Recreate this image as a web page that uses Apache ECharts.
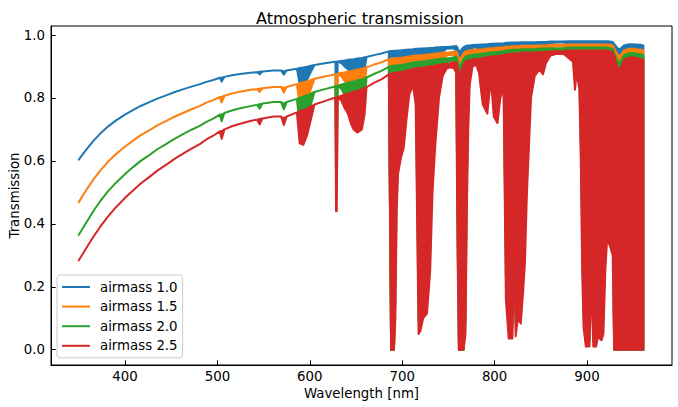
<!DOCTYPE html>
<html><head><meta charset="utf-8">
<script src="https://cdn.jsdelivr.net/npm/echarts@6/dist/echarts.min.js"></script>
<style>html,body{margin:0;padding:0;background:#fff}#c{width:678px;height:407px}</style>
</head><body><div id="c"></div>
<script>
// Wavelength grid [nm]
const wavelength = [
350,355,360,366.5,373,381.5,390,399.5,409,417,425.1,435,445.2,454,463.3,472,481.4,488,495.5,
502.6,504.6,507.6,515.6,524.7,535.7,542.8,545.8,548.8,560.9,
568.9,571.9,574.9,586.0,589.0,593.0,597.1,601.1,605.1,616.2,
625.2,627.7,628.4,629.2,630.2,634.4,637.3,641.3,644.3,647.3,
651.4,656.4,659.4,661.4,669.4,677.5,685.5,688.0,691.1,692.6,
694.1,695.6,698.6,701.6,704.6,707.6,711.6,714.6,716.2,717.7,
719.7,722.7,726.8,730.3,732.8,735.8,739.8,743.8,747.9,751.9,
755.9,758.4,759.9,761.4,763.9,766.4,768.5,770.0,771.5,773.0,
776.1,780.1,783.1,787.1,792.1,796.1,799.1,803.2,806.2,809.7,
812.2,815.2,819.3,821.3,822.8,825.3,828.3,830.8,832.9,834.9,
837.4,839.4,843.5,848.5,852.4,855.5,860.5,867.5,874.7,879.7,
884.8,887.0,888.8,891.7,893.3,894.8,896.3,898.8,902.7,904.7,
906.8,909.8,911.8,915.8,917.8,919.8,921.8,924.8,927.8,929.4,
931.9,933.9,936.9,940.0,944.0,948.1,953.1,958.1,961.0];

// Upper / lower envelopes of the transmission for each airmass
const top10 = [
0.604,0.624,0.643,0.666,0.686,0.709,0.728,0.746,0.762,0.7745,0.785,0.798,0.809,0.819,0.828,0.836,0.844,0.851,0.857,
0.864,0.864,0.867,0.872,0.876,0.880,0.882,0.883,0.884,0.887,
0.887,0.884,0.887,0.893,0.895,0.897,0.899,0.902,0.905,0.910,
0.914,0.915,0.915,0.915,0.916,0.918,0.919,0.921,0.922,0.923,
0.925,0.927,0.929,0.930,0.936,0.941,0.948,0.949,0.950,0.950,
0.950,0.951,0.951,0.952,0.953,0.954,0.955,0.956,0.956,0.956,
0.957,0.957,0.958,0.959,0.959,0.960,0.961,0.962,0.962,0.963,
0.964,0.965,0.960,0.945,0.953,0.961,0.965,0.966,0.967,0.967,
0.968,0.969,0.969,0.970,0.971,0.972,0.972,0.973,0.973,0.974,
0.975,0.975,0.976,0.976,0.976,0.976,0.977,0.977,0.977,0.977,
0.977,0.977,0.977,0.978,0.978,0.978,0.979,0.979,0.979,0.980,
0.980,0.980,0.980,0.980,0.980,0.980,0.980,0.980,0.980,0.980,
0.980,0.980,0.980,0.980,0.980,0.980,0.980,0.979,0.978,0.972,
0.962,0.955,0.958,0.967,0.970,0.971,0.970,0.969,0.967];
const bot10 = [
0.604,0.624,0.643,0.666,0.686,0.709,0.728,0.746,0.762,0.7745,0.785,0.798,0.809,0.819,0.828,0.836,0.844,0.851,0.857,
0.864,0.852,0.867,0.872,0.876,0.880,0.882,0.875,0.884,0.887,
0.887,0.874,0.887,0.893,0.845,0.842,0.858,0.882,0.905,0.910,
0.914,0.915,0.720,0.720,0.916,0.910,0.901,0.891,0.877,0.867,
0.862,0.867,0.891,0.930,0.936,0.941,0.948,0,0,0.398,
0.727,0.793,0.821,0.837,0.882,0.919,0.933,0.905,0.693,0.302,
0.325,0.398,0.421,0.574,0.758,0.842,0.915,0.946,0.956,0.957,
0.957,0.950,0.618,0,0,0,0.302,0.727,0.867,0.933,
0.959,0.961,0.950,0.905,0.891,0.941,0.887,0.877,0.915,0.928,
0.480,0.265,0.265,0.618,0.284,0.398,0.369,0.504,0.601,0.752,
0.847,0.915,0.946,0.954,0.948,0.963,0.974,0.976,0.976,0.971,
0.965,0.926,0.950,0.928,0.815,0.574,0.345,0.158,0.158,0.546,
0.158,0.158,0.276,0.246,0.302,0.574,0.657,0.642,0.618,0,
0,0,0,0,0,0,0,0,0];
const top15 = [
0.469,0.493,0.516,0.544,0.568,0.597,0.621,0.644,0.665,0.682,0.695,0.713,0.728,0.741,0.753,0.764,0.775,0.785,0.793,
0.803,0.803,0.807,0.814,0.820,0.826,0.828,0.830,0.831,0.835,
0.835,0.831,0.835,0.844,0.847,0.850,0.852,0.857,0.861,0.868,
0.874,0.875,0.875,0.875,0.877,0.880,0.881,0.884,0.885,0.887,
0.890,0.893,0.895,0.897,0.906,0.913,0.923,0.925,0.926,0.926,
0.926,0.927,0.927,0.929,0.930,0.932,0.933,0.935,0.935,0.935,
0.936,0.936,0.938,0.939,0.939,0.941,0.942,0.944,0.944,0.945,
0.947,0.948,0.941,0.919,0.930,0.942,0.948,0.949,0.951,0.951,
0.952,0.954,0.954,0.955,0.957,0.958,0.958,0.960,0.960,0.961,
0.963,0.963,0.964,0.964,0.964,0.964,0.966,0.966,0.966,0.966,
0.966,0.966,0.966,0.967,0.967,0.967,0.969,0.969,0.969,0.970,
0.970,0.970,0.970,0.970,0.970,0.970,0.970,0.970,0.970,0.970,
0.970,0.970,0.970,0.970,0.970,0.970,0.970,0.969,0.967,0.958,
0.944,0.933,0.938,0.951,0.955,0.957,0.955,0.954,0.951];
const bot15 = [
0.469,0.493,0.516,0.544,0.568,0.597,0.621,0.644,0.665,0.682,0.695,0.713,0.728,0.741,0.753,0.764,0.775,0.785,0.793,
0.803,0.786,0.807,0.814,0.820,0.826,0.828,0.819,0.831,0.835,
0.835,0.817,0.835,0.844,0.777,0.773,0.795,0.828,0.861,0.868,
0.874,0.875,0.611,0.611,0.877,0.868,0.855,0.842,0.821,0.807,
0.800,0.807,0.842,0.897,0.906,0.913,0.923,0,0,0.251,
0.619,0.706,0.743,0.765,0.828,0.881,0.901,0.861,0.577,0.166,
0.185,0.251,0.273,0.435,0.660,0.772,0.875,0.920,0.934,0.937,
0.936,0.926,0.486,0,0,0,0.166,0.619,0.807,0.901,
0.939,0.942,0.926,0.861,0.842,0.913,0.835,0.821,0.875,0.894,
0.333,0.136,0.136,0.486,0.151,0.251,0.225,0.357,0.466,0.652,
0.779,0.875,0.920,0.932,0.923,0.945,0.961,0.964,0.964,0.956,
0.948,0.892,0.926,0.894,0.736,0.435,0.203,0.063,0.063,0.403,
0.063,0.063,0.145,0.122,0.166,0.435,0.533,0.514,0.486,0,
0,0,0,0,0,0,0,0,0];
const top20 = [
0.365,0.389,0.413,0.444,0.471,0.503,0.530,0.557,0.581,0.600,0.616,0.637,0.655,0.671,0.686,0.699,0.712,0.724,0.734,
0.747,0.747,0.752,0.760,0.767,0.774,0.778,0.780,0.782,0.787,
0.787,0.782,0.787,0.797,0.801,0.805,0.808,0.814,0.819,0.828,
0.835,0.837,0.837,0.837,0.839,0.843,0.845,0.848,0.850,0.852,
0.856,0.859,0.863,0.865,0.876,0.886,0.899,0.901,0.903,0.903,
0.903,0.904,0.904,0.906,0.908,0.910,0.912,0.914,0.914,0.914,
0.916,0.916,0.918,0.920,0.920,0.922,0.924,0.925,0.925,0.927,
0.929,0.931,0.922,0.893,0.908,0.924,0.931,0.933,0.935,0.935,
0.937,0.939,0.939,0.941,0.943,0.945,0.945,0.947,0.947,0.949,
0.951,0.951,0.953,0.953,0.953,0.953,0.955,0.955,0.955,0.955,
0.955,0.955,0.955,0.957,0.957,0.957,0.958,0.958,0.958,0.960,
0.960,0.960,0.960,0.960,0.960,0.960,0.960,0.960,0.960,0.960,
0.960,0.960,0.960,0.960,0.960,0.960,0.960,0.958,0.957,0.945,
0.925,0.912,0.918,0.935,0.941,0.943,0.941,0.939,0.935];
const bot20 = [
0.365,0.389,0.413,0.444,0.471,0.503,0.530,0.557,0.581,0.600,0.616,0.637,0.655,0.671,0.686,0.699,0.712,0.724,0.734,
0.747,0.726,0.752,0.760,0.767,0.774,0.778,0.766,0.782,0.787,
0.787,0.764,0.787,0.797,0.714,0.709,0.736,0.778,0.819,0.828,
0.835,0.837,0.518,0.518,0.839,0.828,0.811,0.794,0.769,0.752,
0.743,0.752,0.794,0.865,0.876,0.886,0.899,0,0,0.158,
0.528,0.629,0.673,0.700,0.777,0.845,0.870,0.820,0.480,0.091,
0.105,0.158,0.177,0.330,0.574,0.708,0.837,0.895,0.913,0.917,
0.915,0.903,0.382,0,0,0,0.091,0.528,0.752,0.870,
0.919,0.923,0.903,0.820,0.794,0.886,0.786,0.769,0.837,0.862,
0.231,0.070,0.070,0.382,0.081,0.158,0.137,0.254,0.361,0.565,
0.717,0.837,0.895,0.911,0.899,0.927,0.948,0.952,0.952,0.942,
0.931,0.858,0.902,0.862,0.665,0.330,0.119,0.025,0.025,0.298,
0.025,0.025,0.076,0.060,0.091,0.330,0.432,0.412,0.382,0,
0,0,0,0,0,0,0,0,0];
const top25 = [
0.284,0.308,0.332,0.362,0.390,0.423,0.452,0.481,0.507,0.528,0.546,0.569,0.589,0.607,0.624,0.639,0.654,0.668,0.680,
0.694,0.694,0.700,0.710,0.718,0.727,0.731,0.733,0.735,0.741,
0.741,0.735,0.741,0.754,0.758,0.762,0.766,0.773,0.779,0.790,
0.799,0.801,0.801,0.801,0.803,0.807,0.810,0.814,0.816,0.819,
0.823,0.827,0.832,0.834,0.848,0.859,0.875,0.877,0.880,0.880,
0.880,0.882,0.882,0.884,0.887,0.889,0.891,0.894,0.894,0.894,
0.896,0.896,0.898,0.901,0.901,0.903,0.905,0.908,0.908,0.910,
0.912,0.915,0.903,0.868,0.887,0.905,0.915,0.917,0.920,0.920,
0.922,0.924,0.924,0.927,0.929,0.932,0.932,0.934,0.934,0.936,
0.939,0.939,0.941,0.941,0.941,0.941,0.944,0.944,0.944,0.944,
0.944,0.944,0.944,0.946,0.946,0.946,0.948,0.948,0.948,0.951,
0.951,0.951,0.951,0.951,0.951,0.951,0.951,0.951,0.951,0.951,
0.951,0.951,0.951,0.951,0.951,0.951,0.951,0.948,0.946,0.932,
0.908,0.891,0.898,0.920,0.927,0.929,0.927,0.924,0.920];
const bot25 = [
0.284,0.308,0.332,0.362,0.390,0.423,0.452,0.481,0.507,0.528,0.546,0.569,0.589,0.607,0.624,0.639,0.654,0.668,0.680,
0.694,0.670,0.700,0.710,0.718,0.727,0.731,0.716,0.735,0.741,
0.741,0.714,0.741,0.754,0.656,0.651,0.682,0.731,0.779,0.790,
0.799,0.801,0.440,0.440,0.803,0.790,0.770,0.750,0.720,0.700,
0.690,0.700,0.750,0.834,0.848,0.859,0.875,0,0,0.100,
0.450,0.560,0.610,0.640,0.730,0.810,0.840,0.780,0.400,0.050,
0.060,0.100,0.115,0.250,0.500,0.650,0.800,0.870,0.893,0.897,
0.895,0.880,0.300,0,0,0,0.050,0.450,0.700,0.840,
0.900,0.905,0.880,0.780,0.750,0.860,0.740,0.720,0.800,0.830,
0.160,0.036,0.036,0.300,0.043,0.100,0.083,0.180,0.280,0.490,
0.660,0.800,0.870,0.890,0.875,0.910,0.935,0.940,0.940,0.928,
0.915,0.826,0.879,0.830,0.600,0.250,0.070,0.010,0.010,0.220,
0.010,0.010,0.040,0.030,0.050,0.250,0.350,0.330,0.300,0,
0,0,0,0,0,0,0,0,0];

const seriesNames = ['airmass 1.0', 'airmass 1.5', 'airmass 2.0', 'airmass 2.5'];
const colors = ['#1f77b4', '#ff7f0e', '#2ca02c', '#d62728'];
const xTicks = [400, 500, 600, 700, 800, 900];
const yTicks = [0, 0.2, 0.4, 0.6, 0.8, 1.0];

const tops = [top10, top15, top20, top25];
const bots = [bot10, bot15, bot20, bot25];
const FONT = 'DejaVu Sans';

// One custom series per airmass: the band between the upper and lower
// envelope, drawn through the cartesian coordinate system (api.coord).
const series = seriesNames.map((name, s) => ({
  type: 'custom',
  name: name,
  coordinateSystem: 'cartesian2d',
  silent: true,
  itemStyle: { color: colors[s] },
  encode: { x: 0, y: 1 },
  data: wavelength.map((w, i) => [w, tops[s][i], bots[s][i]]),
  renderItem: function (params, api) {
    if (params.dataIndex !== 0) return null;
    const n = wavelength.length;
    const pts = [];
    for (let i = 0; i < n; i++) pts.push(api.coord([wavelength[i], tops[s][i]]));
    for (let i = n - 1; i >= 0; i--) pts.push(api.coord([wavelength[i], bots[s][i]]));
    return {
      type: 'polygon',
      shape: { points: pts },
      style: { fill: colors[s], stroke: colors[s], lineWidth: 2, lineJoin: 'round' }
    };
  }
}));

const chart = echarts.init(document.getElementById('c'), null, { renderer: 'svg' });
chart.setOption({
  animation: false,
  backgroundColor: '#ffffff',
  title: {
    text: 'Atmospheric transmission', left: 355, top: 5, textAlign: 'center',
    textStyle: { fontFamily: FONT, fontSize: 16, fontWeight: 'normal', color: '#000' }
  },
  grid: {
    left: 51, right: 6, top: 26, bottom: 42, containLabel: false, outerBoundsMode: 'none',
    show: true, borderColor: '#000', borderWidth: 1, backgroundColor: 'transparent', z: 10
  },
  legend: {
    data: seriesNames, orient: 'vertical', left: 57, top: 275,
    icon: 'rect', itemWidth: 28, itemHeight: 2, itemGap: 3.6,
    padding: [4, 5, 4, 5],
    backgroundColor: 'rgba(255,255,255,0.8)', borderColor: '#cccccc', borderWidth: 1, borderRadius: 3,
    textStyle: { fontFamily: FONT, fontSize: 13.33, color: '#000', lineHeight: 16, padding: [0, 0, 0, 5] }
  },
  xAxis: {
    type: 'value', min: 319.9, max: 992.0,
    name: 'Wavelength [nm]', nameLocation: 'middle', nameGap: 22, nameMoveOverlap: false,
    nameTextStyle: { fontFamily: FONT, fontSize: 13.33, color: '#000' },
    axisLine: { show: true, onZero: false, lineStyle: { color: '#000', width: 1 } },
    axisTick: { show: true, inside: true, length: 4.7, customValues: xTicks, lineStyle: { color: '#000', width: 1 } },
    axisLabel: { customValues: xTicks, color: '#000', fontFamily: FONT, fontSize: 13.33, margin: 5 },
    splitLine: { show: false }
  },
  yAxis: {
    type: 'value', min: -0.0486, max: 1.0286,
    name: 'Transmission', nameLocation: 'middle', nameGap: 30, nameMoveOverlap: false,
    nameTextStyle: { fontFamily: FONT, fontSize: 13.33, color: '#000' },
    axisLine: { show: true, onZero: false, lineStyle: { color: '#000', width: 1 } },
    axisTick: { show: true, inside: true, length: 4.7, customValues: yTicks, lineStyle: { color: '#000', width: 1 } },
    axisLabel: { customValues: yTicks, color: '#000', fontFamily: FONT, fontSize: 13.33, margin: 6, formatter: v => v.toFixed(1) },
    splitLine: { show: false }
  },
  series: series
});
</script></body></html>
